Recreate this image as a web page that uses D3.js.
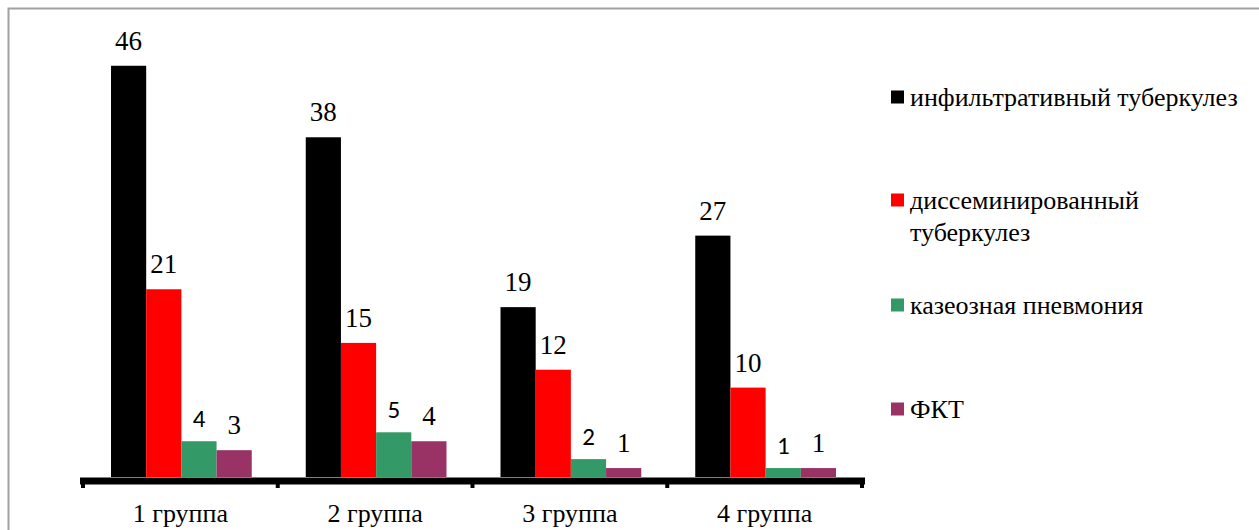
<!DOCTYPE html>
<html>
<head>
<meta charset="utf-8">
<script src="https://cdn.jsdelivr.net/npm/d3@7"></script>
<style>
  html, body { margin: 0; padding: 0; background: #fff; }
  svg { display: block; }
  svg text { font-family: 'Liberation Serif'; }
  svg text.green { font-family: 'Carlito'; }
</style>
</head>
<body>
<svg id="chart" width="1259" height="530" font-family="Liberation Serif"></svg>
<script>
// Groups along the x axis
const groups = ["1 группа", "2 группа", "3 группа", "4 группа"];
// Series names (legend order)
const seriesNames = ["инфильтративный туберкулез", "диссеминированный туберкулез", "казеозная пневмония", "ФКТ"];
const seriesColors = ["#000000", "#ff0000", "#339966", "#993366"];
// Case counts per series, one value per group
const infiltrative = [46, 38, 19, 27];
const disseminated = [21, 15, 12, 10];
const caseous = [4, 5, 2, 1];
const fct = [3, 4, 1, 1];
const seriesValues = [infiltrative, disseminated, caseous, fct];
// Legend lines (the second entry wraps onto two lines)
const legendLines = [["инфильтративный туберкулез"], ["диссеминированный", "туберкулез"], ["казеозная пневмония"], ["ФКТ"]];

const svg = d3.select("#chart");

// outer frame
svg.append("rect")
  .attr("x", 8.5).attr("y", 8.5)
  .attr("width", 1300).attr("height", 600)
  .attr("fill", "none").attr("stroke", "#a0a0a0").attr("stroke-width", 2);

const axisY = 477;
const x0 = d3.scaleBand().domain(groups).range([83, 862]).paddingInner(0).paddingOuter(0);
const x1 = d3.scaleBand().domain(d3.range(seriesNames.length)).range([28, x0.bandwidth() - 26]);
const y = d3.scaleLinear().domain([0, 50]).range([axisY, 30]);

const rows = groups.map((g, gi) => ({
  group: g,
  items: seriesValues.map((vals, si) => ({ si, value: vals[gi] }))
}));

const gGroups = svg.selectAll("g.grp").data(rows).join("g")
  .attr("class", "grp")
  .attr("transform", d => `translate(${x0(d.group)},0)`);

gGroups.selectAll("rect").data(d => d.items).join("rect")
  .attr("x", d => x1(d.si))
  .attr("width", x1.bandwidth())
  .attr("y", d => y(d.value))
  .attr("height", d => axisY - y(d.value))
  .attr("fill", d => seriesColors[d.si]);

// value labels: green series in sans, others in serif
gGroups.selectAll("text").data(d => d.items).join("text")
  .attr("class", d => d.si === 2 ? "green" : "val")
  .attr("x", d => x1(d.si) + x1.bandwidth() / 2)
  .attr("y", d => y(d.value) - (d.si === 2 ? 14 : 16))
  .attr("text-anchor", "middle")
  .attr("font-size", d => d.si === 2 ? 25 : 27)
  .attr("fill", "#000")
  .text(d => d.value);

// category axis: thick base line with boundary ticks
const boundaries = d3.range(groups.length + 1).map(i => x0.range()[0] + i * x0.step());
svg.append("line")
  .attr("x1", boundaries[0] - 3).attr("x2", boundaries[boundaries.length - 1] + 3)
  .attr("y1", axisY + 4).attr("y2", axisY + 4)
  .attr("stroke", "#000").attr("stroke-width", 7);
svg.selectAll("line.tick").data(boundaries).join("line")
  .attr("class", "tick")
  .attr("x1", d => d).attr("x2", d => d)
  .attr("y1", axisY + 4).attr("y2", axisY + 11)
  .attr("stroke", "#000").attr("stroke-width", 4);

svg.selectAll("text.cat").data(groups).join("text")
  .attr("class", "cat")
  .attr("x", d => x0(d) + x0.bandwidth() / 2)
  .attr("y", 522)
  .attr("text-anchor", "middle")
  .attr("font-size", 26)
  .attr("fill", "#000")
  .text(d => d);

// legend
const legendY = [97, 200, 305, 409];
const legend = svg.selectAll("g.leg").data(seriesNames).join("g")
  .attr("class", "leg")
  .attr("transform", (d, i) => `translate(891,${legendY[i]})`);
legend.append("rect")
  .attr("x", 0).attr("y", -6.5).attr("width", 13).attr("height", 13)
  .attr("fill", (d, i) => seriesColors[i]);
legend.append("text")
  .attr("font-size", 26)
  .attr("fill", "#000")
  .selectAll("tspan").data((d, i) => legendLines[i]).join("tspan")
  .attr("x", 19)
  .attr("y", (d, j) => 9 + j * 32)
  .text(d => d);
</script>
</body>
</html>
